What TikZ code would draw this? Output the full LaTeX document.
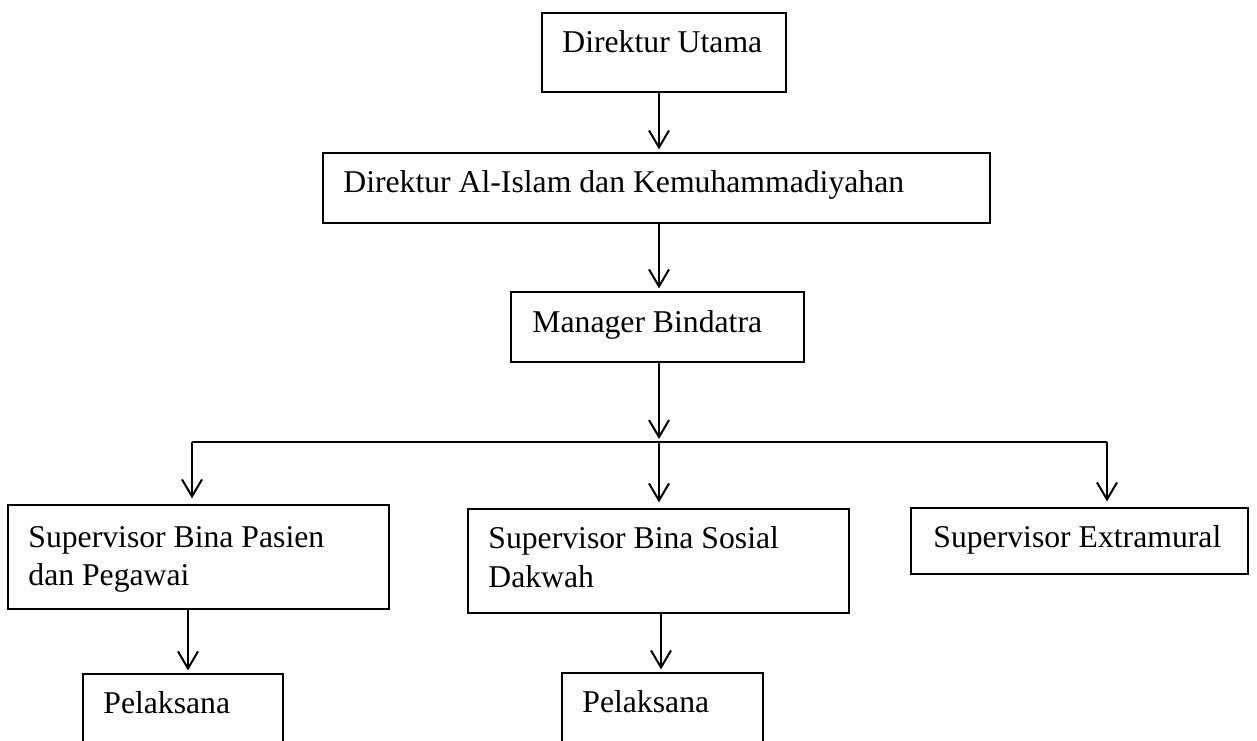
\documentclass[tikz,border=0pt]{standalone}
\usepackage{fontspec}
\setmainfont{Liberation Serif}
\usetikzlibrary{arrows.meta,fit}
\begin{document}
\begin{tikzpicture}[x=0.5pt,y=-0.5pt,
  box/.style={draw, line width=0.6pt, inner sep=0pt},
  lbl/.style={inner sep=0pt, anchor=base west, font=\fontsize{15.85pt}{19pt}\selectfont},
  conn/.style={line width=1pt},
  arr/.style={line width=1pt, shorten >=1.5pt, -{Straight Barb[length=8.5pt,width=10pt,line width=1pt]}}]
\clip (0,0) rectangle (1257,740);
\fill[white] (0,0) rectangle (1257,740);
% boxes
\node[box, fit={(542,13) (786,92)}] (du) {};
\node[box, fit={(323,153) (990,223)}] (ai) {};
\node[box, fit={(511,292) (804,362)}] (mb) {};
\node[box, fit={(8,505) (389,609)}] (s1) {};
\node[box, fit={(468,509) (849,613)}] (s2) {};
\node[box, fit={(911,508) (1248,574)}] (s3) {};
\node[box, fit={(83,674) (283,780)}] (p1) {};
\node[box, fit={(562,673) (763,780)}] (p2) {};
% labels
\node[lbl] (duT) at (562,52) {Direktur Utama};
\node[lbl] (aiT) at (343,192) {Direktur Al-Islam dan Kemuhammadiyahan};
\node[lbl] (mbT) at (532,332) {Manager Bindatra};
\node[lbl] (s1T1) at (28,547) {Supervisor Bina Pasien};
\node[lbl] (s1T2) at (28,585) {dan Pegawai};
\node[lbl] (s2T1) at (488,548) {Supervisor Bina Sosial};
\node[lbl] (s2T2) at (488,587) {Dakwah};
\node[lbl] (s3T) at (933,547) {Supervisor Extramural};
\node[lbl] (p1T) at (103,713) {Pelaksana};
\node[lbl] (p2T) at (582,712) {Pelaksana};
% connectors
\coordinate (hl) at (192,442);
\coordinate (hc) at (659,442);
\coordinate (hr) at (1107,442);
\coordinate (xa) at (188,0);
\coordinate (xb) at (661,0);
\draw[arr] (du.south -| hc) -- (ai.north -| hc);
\draw[arr] (ai.south -| hc) -- (mb.north -| hc);
\draw[arr] (mb.south -| hc) -- (hc);
\draw[conn] (hl) -- (hr);
\draw[arr, shorten >=3pt] (hl) -- (s1.north -| hl);
\draw[arr, shorten >=3pt] (hc) -- (s2.north -| hc);
\draw[arr, shorten >=3pt] (hr) -- (s3.north -| hr);
\draw[arr] (s1.south -| xa) -- (p1.north -| xa);
\draw[arr] (s2.south -| xb) -- (p2.north -| xb);
\end{tikzpicture}
\end{document}
